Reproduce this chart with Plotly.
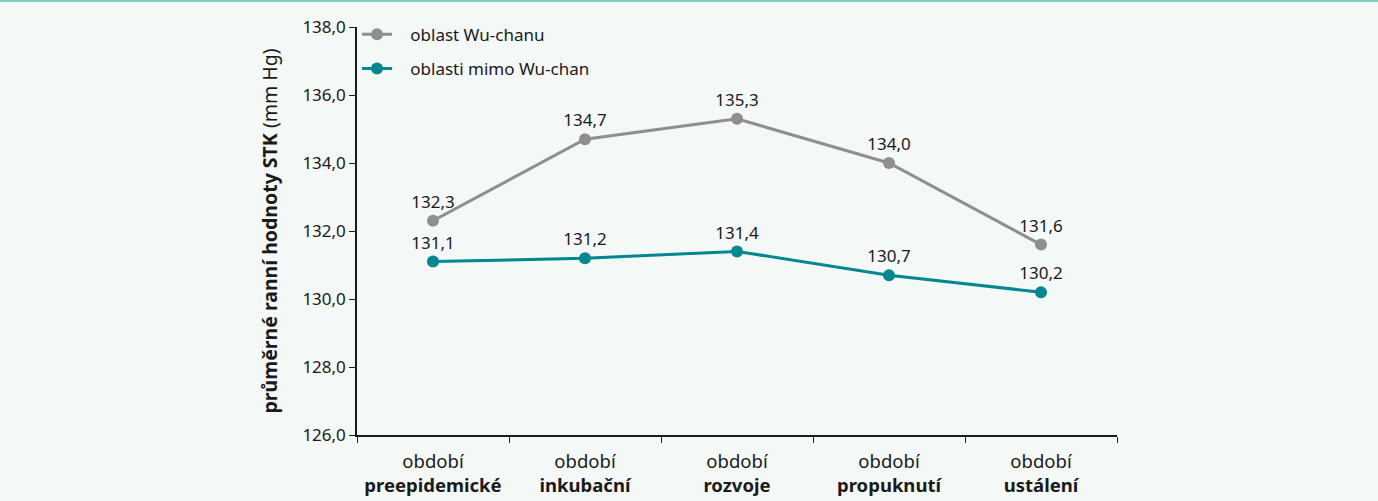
import plotly.graph_objects as go

categories = ["období<br><b>preepidemické</b>", "období<br><b>inkubační</b>", "období<br><b>rozvoje</b>",
              "období<br><b>propuknutí</b>", "období<br><b>ustálení</b>"]
wuhan = [132.3, 134.7, 135.3, 134.0, 131.6]
outside = [131.1, 131.2, 131.4, 130.7, 130.2]
series_names = ["oblast Wu-chanu", "oblasti mimo Wu-chan"]
colors = ["#8f8f8f", "#00878f"]

FONT = "Noto Sans"

def fmt(v):
    return f"{v:.1f}".replace(".", ",")

fig = go.Figure()
for i, (name, vals, col) in enumerate(zip(series_names, [wuhan, outside], colors)):
    fig.add_trace(go.Scatter(
        x=categories, y=vals, name="\u00a0\u00a0\u00a0" + name, mode="lines+markers+text",
        text=[fmt(v) for v in vals], textposition="top center",
        textfont=dict(family=FONT, size=17, color="#1a1a1a"),
        line=dict(color=col, width=3), marker=dict(color=col, size=12),
        legendgroup=f"g{i}", cliponaxis=False,
    ))

fig.update_layout(
    width=1378, height=501,
    margin=dict(l=357, r=261, t=27, b=66, autoexpand=False),
    paper_bgcolor="#f4f8f7", plot_bgcolor="#f4f8f7",
    font=dict(family=FONT, size=17, color="#1a1a1a"),
    separators=", ",
    showlegend=True,
    legend=dict(x=0.0, y=1.025, xanchor="left", yanchor="top", bgcolor="rgba(0,0,0,0)",
                font=dict(family=FONT, size=17), traceorder="grouped", tracegroupgap=9,
                itemwidth=30),
    xaxis=dict(type="category", showline=True, linecolor="#1a1a1a", linewidth=1.5,
               ticks="outside", tickson="boundaries", ticklen=6, tickcolor="#1a1a1a",
               showgrid=False, zeroline=False, range=[-0.5, 4.5], ticklabelstandoff=9,
               automargin=False, tickfont=dict(family=FONT, size=18.5)),
    yaxis=dict(range=[126, 138], dtick=2, tickformat=".1f", showline=True, linecolor="#1a1a1a",
               linewidth=1.5, ticks="outside", ticklen=6, tickcolor="#1a1a1a",
               showgrid=False, zeroline=False, tickfont=dict(family=FONT, size=17),
               automargin=False,
               title=dict(text="<b>průměrné ranní hodnoty STK</b> (mm Hg)",
                          font=dict(family=FONT, size=19.5), standoff=20)),
    shapes=[dict(type="line", xref="paper", yref="paper", x0=-357/760, x1=1+261/760,
                 y0=1+26/408, y1=1+26/408, line=dict(color="#7fcfc0", width=2))],
)

fig.write_html("out.html", config={"displayModeBar": False},
               post_script="document.body.style.margin='0';document.body.style.overflow='hidden';")
